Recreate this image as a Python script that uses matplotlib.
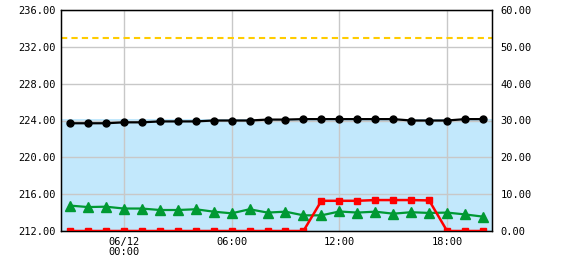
import matplotlib
matplotlib.use('Agg')
import matplotlib.pyplot as plt

# hours relative to 06/12 00:00
hours = list(range(-3, 21))
tick_pos = [0, 6, 12, 18]
tick_labels = ['06/12\n00:00', '06:00', '12:00', '18:00']

# left axis series
level = [223.7, 223.7, 223.7, 223.8, 223.8, 223.9, 223.9, 223.9,
         224.0, 224.0, 224.0, 224.1, 224.1, 224.15, 224.15, 224.15,
         224.15, 224.15, 224.15, 224.0, 224.0, 224.0, 224.15, 224.15]
band_top = 224.2
dashed_level = 233.0

# right axis series
green = [6.9, 6.5, 6.6, 6.1, 6.1, 5.7, 5.7, 5.9,
         5.25, 4.8, 5.9, 5.0, 5.25, 4.25, 4.25, 5.3,
         5.0, 5.25, 4.7, 5.1, 4.9, 5.0, 4.5, 3.9]
red = [0, 0, 0, 0, 0, 0, 0, 0, 0, 0, 0, 0, 0, 0,
       8.2, 8.2, 8.2, 8.4, 8.4, 8.4, 8.3, 0, 0, 0]

font = {'family': 'DejaVu Sans Mono', 'size': 7.5}

fig = plt.figure(figsize=(5.7, 2.7), dpi=100)
ax = fig.add_axes([61/570, 1 - 231/270, 431/570, 221/270])
ax.set_xlim(-3.5, 20.5)
ax.set_ylim(212, 236)
ax.set_yticks([212, 216, 220, 224, 228, 232, 236])
ax.set_yticklabels(['%.2f' % v for v in [212, 216, 220, 224, 228, 232, 236]], fontdict=font)
ax.set_xticks(tick_pos)
ax.set_xticklabels(tick_labels, fontdict=font, linespacing=1.0)
ax.tick_params(length=0, pad=4)

ax.axhspan(212, band_top, color='#c2e8fc', zorder=0, linewidth=0)
ax.axhline(dashed_level, color='#ffcc00', linestyle=(0, (3, 2)), linewidth=1.5, zorder=2)
ax.plot(hours, level, color='black', marker='o', markersize=5, linewidth=1.6, zorder=5)
for s in ax.spines.values():
    s.set_linewidth(1.0)
ax.grid(True, color='#c8c8c8', linewidth=1, zorder=1)

ax2 = ax.twinx()
ax2.set_ylim(0, 60)
ax2.set_yticks([0, 10, 20, 30, 40, 50, 60])
ax2.set_yticklabels(['%.2f' % v for v in [0, 10, 20, 30, 40, 50, 60]], fontdict=font)
ax2.tick_params(length=0, pad=6)
ax2.plot(hours, green, color='#009933', marker='^', markersize=6.5, linewidth=1.6)
ax2.plot(hours, red, color='#ff0000', marker='s', markersize=5, linewidth=1.8)

fig.savefig('out.png', dpi=100)
